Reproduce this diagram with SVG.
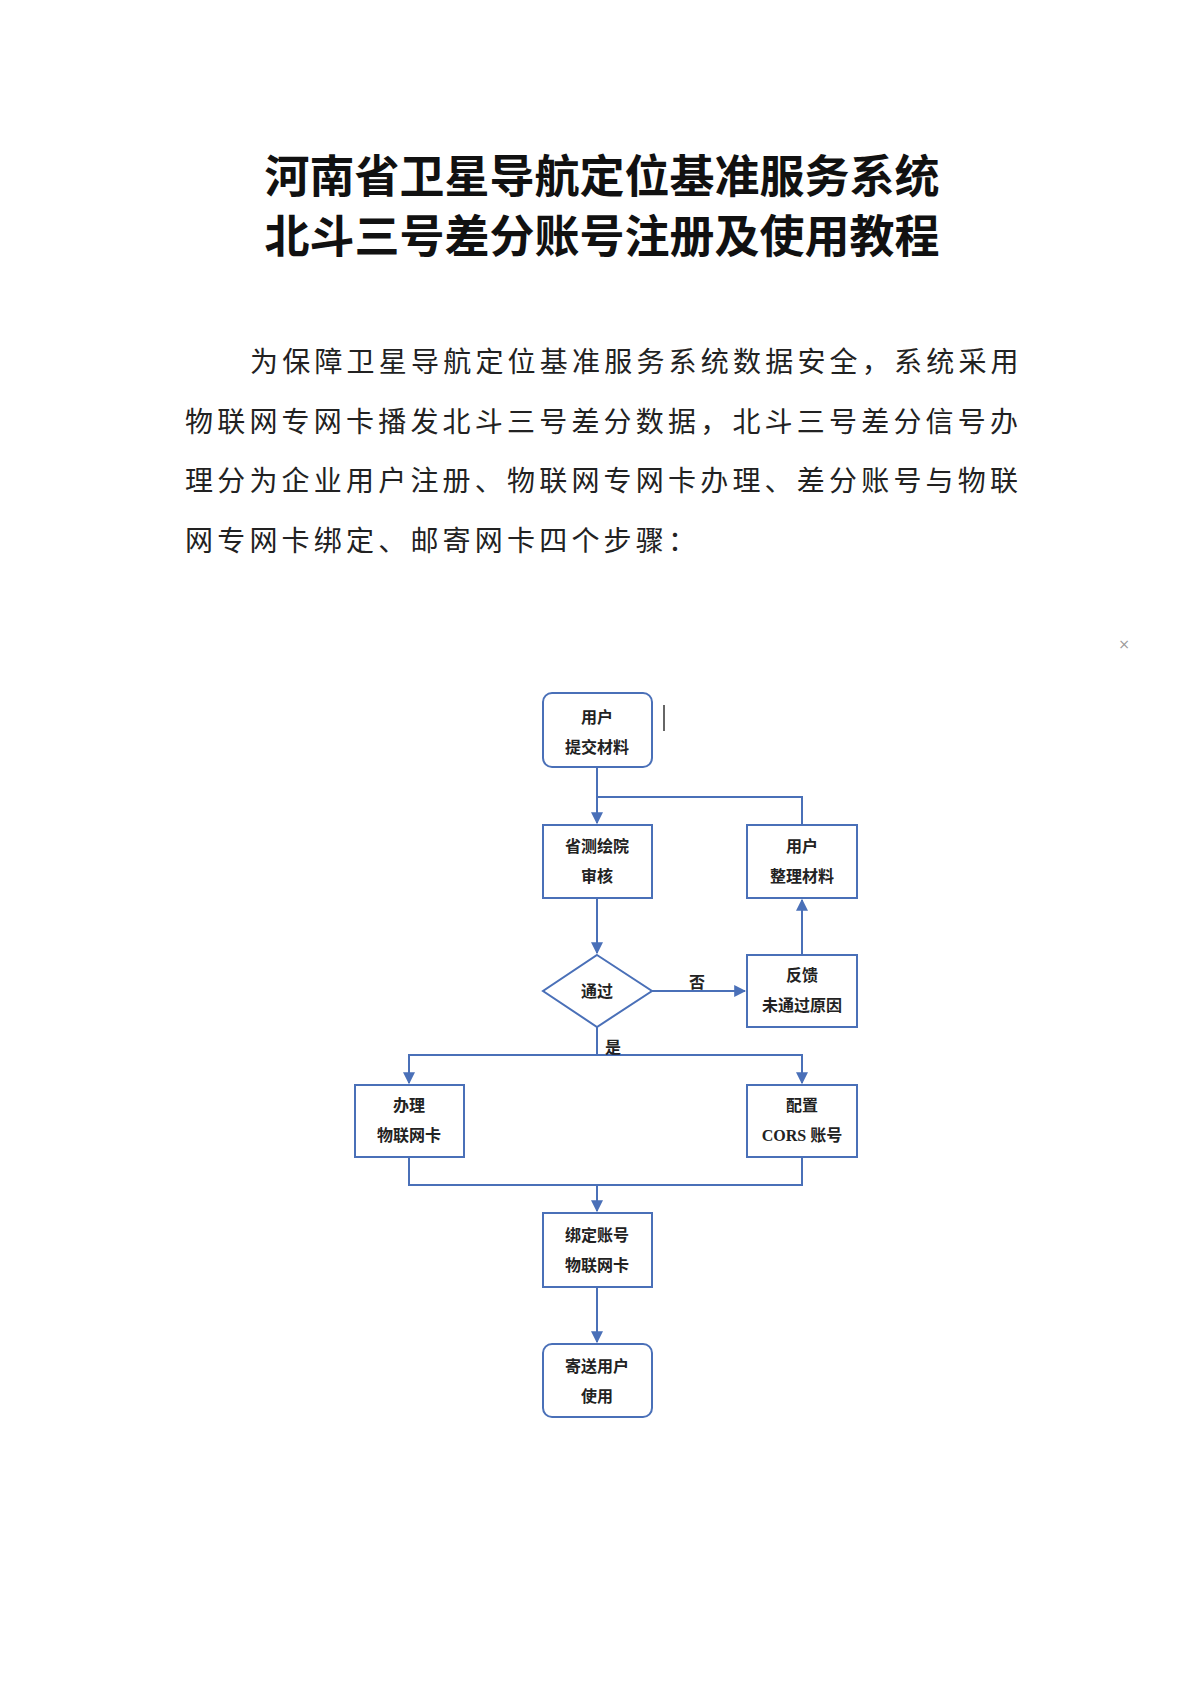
<svg xmlns="http://www.w3.org/2000/svg" width="1200" height="1697" viewBox="0 0 1200 1697">
<style>
.t{font-family:"Noto Sans CJK SC","Noto Sans",sans-serif;font-weight:bold;font-size:45px;fill:#111;text-anchor:middle}
.p{font-family:"Liberation Serif","Noto Sans CJK SC",serif;font-size:28px;fill:#222;letter-spacing:4.2px}
.b{fill:#fff;stroke:#4a70b8;stroke-width:2}
.l{font-family:"Liberation Serif","Noto Sans CJK SC",serif;font-weight:bold;font-size:16px;fill:#222;text-anchor:middle}
.c{fill:none;stroke:#4a70b8;stroke-width:2}
</style>
<defs><marker id="a" viewBox="0 0 10 10" refX="9" refY="5" markerWidth="6" markerHeight="6" orient="auto"><path d="M0,0L10,5L0,10z" fill="#4a70b8"/></marker></defs>
<rect width="1200" height="1697" fill="#fff"/>
<text class="t" x="602" y="193">河南省卫星导航定位基准服务系统</text>
<text class="t" x="602" y="253">北斗三号差分账号注册及使用教程</text>
<text class="p" x="250" y="372">为保障卫星导航定位基准服务系统数据安全，系统采用</text>
<text class="p" x="185" y="432">物联网专网卡播发北斗三号差分数据，北斗三号差分信号办</text>
<text class="p" x="185" y="491">理分为企业用户注册、物联网专网卡办理、差分账号与物联</text>
<text class="p" x="185" y="551">网专网卡绑定、邮寄网卡四个步骤：</text>
<text x="1124" y="649" font-family="DejaVu Sans,sans-serif" font-size="14" fill="#999" text-anchor="middle">×</text>
<line x1="664" y1="705" x2="664" y2="731" stroke="#333" stroke-width="1.5"/>
<g id="connectors">
<path class="c" d="M597,767V823" marker-end="url(#a)"/>
<path class="c" d="M802,825V797H597"/>
<path class="c" d="M597,898V953" marker-end="url(#a)"/>
<path class="c" d="M652,991H745" marker-end="url(#a)"/>
<path class="c" d="M802,955V900" marker-end="url(#a)"/>
<path class="c" d="M597,1027V1055"/>
<path class="c" d="M409,1083V1055H802V1083" marker-end="url(#a)"/>
<path class="c" d="M409,1055V1083" marker-end="url(#a)"/>
<path class="c" d="M409,1157V1185H802V1157"/>
<path class="c" d="M597,1185V1211" marker-end="url(#a)"/>
<path class="c" d="M597,1287V1342" marker-end="url(#a)"/>
<text class="l" x="697" y="988">否</text>
<text class="l" x="613" y="1053">是</text>
</g>
<g id="n1"><rect class="b" x="543" y="693" width="109" height="74" rx="9"/><text class="l" x="597" y="723">用户</text><text class="l" x="597" y="753">提交材料</text></g>
<g id="n2"><rect class="b" x="543" y="825" width="109" height="73"/><text class="l" x="597" y="852">省测绘院</text><text class="l" x="597" y="882">审核</text></g>
<g id="n3"><rect class="b" x="747" y="825" width="110" height="73"/><text class="l" x="802" y="852">用户</text><text class="l" x="802" y="882">整理材料</text></g>
<g id="n4"><polygon class="b" points="597,955 652,991 597,1027 543,991"/><text class="l" x="597" y="997">通过</text></g>
<g id="n5"><rect class="b" x="747" y="955" width="110" height="72"/><text class="l" x="802" y="981">反馈</text><text class="l" x="802" y="1011">未通过原因</text></g>
<g id="n6"><rect class="b" x="355" y="1085" width="109" height="72"/><text class="l" x="409" y="1111">办理</text><text class="l" x="409" y="1141">物联网卡</text></g>
<g id="n7"><rect class="b" x="747" y="1085" width="110" height="72"/><text class="l" x="802" y="1111">配置</text><text class="l" x="802" y="1141">CORS 账号</text></g>
<g id="n8"><rect class="b" x="543" y="1213" width="109" height="74"/><text class="l" x="597" y="1241">绑定账号</text><text class="l" x="597" y="1271">物联网卡</text></g>
<g id="n9"><rect class="b" x="543" y="1344" width="109" height="73" rx="9"/><text class="l" x="597" y="1372">寄送用户</text><text class="l" x="597" y="1402">使用</text></g>
</svg>
